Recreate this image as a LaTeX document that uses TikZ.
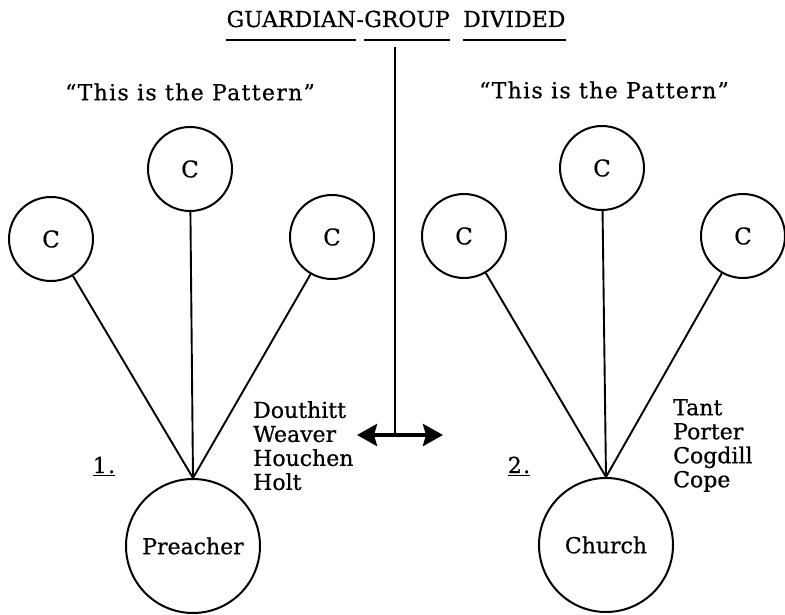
\documentclass[tikz,border=0pt]{standalone}
\usepackage{fontspec}
\setmainfont{DejaVu Serif}[FakeBold=0.6]
\usetikzlibrary{arrows.meta}

\tikzset{
  ttl/.style={inner sep=0pt, font=\fontsize{22}{24}\selectfont},
  lbl/.style={inner sep=0pt, font=\fontsize{22}{24}\selectfont\addfontfeature{LetterSpace=6}},
  member/.style={circle, draw, line width=2pt, minimum size=84pt, inner sep=0pt,
                 font=\fontsize{23}{24}\selectfont},
  hub/.style={circle, draw, line width=2pt, minimum size=134pt, inner sep=0pt,
              font=\fontsize{22}{24}\selectfont},
  names/.style={inner sep=0pt, align=left, font=\fontsize{22}{24}\selectfont},
  spoke/.style={line width=1.9pt},
  uline/.style={line width=1.7pt},
}

\begin{document}
\begin{tikzpicture}[x=1pt, y=-1pt]
  \useasboundingbox (0,0) rectangle (785,615);

  % heading, built word by word so each word can carry its own underline
  \node[ttl, anchor=base] (g2) at (407,27) {GROUP};
  \node[ttl, anchor=base east] (hy) at (g2.base west) {-};
  \node[ttl, anchor=base east] (g1) at (hy.base west) {GUARDIAN};
  \node[ttl, anchor=base west] (g3) at ([xshift=13pt]g2.base east) {DIVIDED};
  \foreach \w in {g1,g2,g3}
    \draw[uline] ([yshift=-13pt]\w.base west) -- ([yshift=-13pt]\w.base east);

  % split marker: stem from the heading down to a two-headed arrow
  \coordinate (stemtop) at (395,47);
  \coordinate (split) at (395,435);
  \coordinate (arrL) at (357,435);
  \coordinate (arrR) at (443,435);
  \draw[line width=1.9pt] (stemtop) -- (split);
  \draw[line width=4pt, {Stealth[length=20pt,width=22pt,inset=3pt]}-{Stealth[length=20pt,width=22pt,inset=3pt]}]
    (arrL) -- (arrR);

  % ---- pattern 1: the preacher at the centre ----
  \node[lbl] (pat1) at (190,92) {``This is the Pattern''};
  \node[member] (c1l) at (51,239) {C};
  \node[member] (c1m) at (190,169) {C};
  \node[member] (c1r) at (332,237) {C};
  \node[hub] (preacher) at (193,546) {Preacher};
  \draw[spoke] (c1l) -- (preacher.north);
  \draw[spoke] (c1m) -- (preacher.north);
  \draw[spoke] (c1r) -- (preacher.north);
  \node[lbl, anchor=base] (n1) at (104,473) {\underline{1.}};
  \node[names, anchor=north west] (names1) at (253,401)
    {Douthitt\\Weaver\\Houchen\\Holt};

  % ---- pattern 2: the church at the centre ----
  \node[lbl] (pat2) at (604,90) {``This is the Pattern''};
  \node[member] (c2l) at (464,236) {C};
  \node[member] (c2m) at (602,168) {C};
  \node[member] (c2r) at (743,236) {C};
  \node[hub] (church) at (606,545) {Church};
  \draw[spoke] (c2l) -- (church.north);
  \draw[spoke] (c2m) -- (church.north);
  \draw[spoke] (c2r) -- (church.north);
  \node[lbl, anchor=base] (n2) at (519,473) {\underline{2.}};
  \node[names, anchor=north west] (names2) at (673,399)
    {Tant\\Porter\\Cogdill\\Cope};
\end{tikzpicture}
\end{document}
